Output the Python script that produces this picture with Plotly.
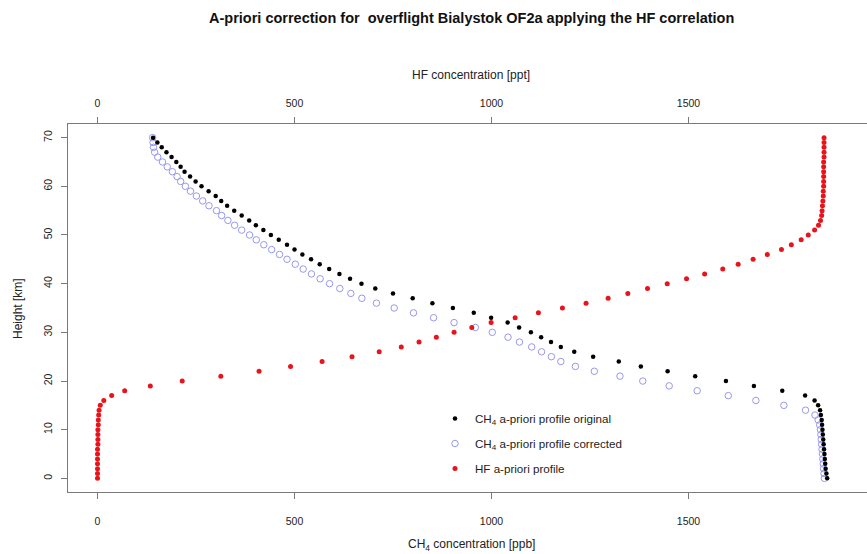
import plotly.graph_objects as go

heights = list(range(0, 71))

ch4_original = [1852, 1850, 1848, 1847, 1846, 1845, 1844, 1843, 1842, 1841,
                1840, 1839, 1838, 1836, 1834, 1829, 1820, 1796, 1738, 1666,
                1595, 1517, 1447, 1379, 1323, 1258, 1210, 1176, 1151, 1126,
                1100, 1070, 1041, 999, 955, 902, 850, 800, 750, 705,
                670, 641, 614, 588, 564, 542, 520, 500, 481, 460,
                440, 421, 402, 385, 366, 347, 329, 314, 300, 282,
                264, 249, 235, 221, 211, 200, 188, 175, 163, 152, 141]

ch4_corrected = [1845, 1844, 1843, 1842, 1841, 1840, 1839, 1838, 1837, 1836,
                 1835, 1833, 1829, 1821, 1797, 1742, 1671, 1601, 1522, 1451,
                 1384, 1326, 1261, 1213, 1176, 1152, 1127, 1102, 1071, 1042,
                 1002, 959, 905, 853, 802, 753, 708, 671, 643, 615,
                 589, 565, 543, 522, 502, 481, 462, 442, 422, 403,
                 386, 366, 348, 331, 315, 302, 283, 267, 251, 236,
                 223, 211, 202, 190, 177, 165, 153, 145, 142, 141, 140]

hf_apriori = [0, 0, 0, 0, 0, 0, 0, 1, 1, 1,
              1, 2, 2, 3, 4, 7, 16, 36, 69, 134,
              215, 313, 410, 490, 570, 646, 715, 771, 816, 860,
              905, 950, 999, 1060, 1119, 1180, 1240, 1296, 1346, 1396,
              1446, 1495, 1541, 1587, 1626, 1664, 1700, 1736, 1761, 1786,
              1804, 1820, 1830, 1835, 1838, 1839, 1840, 1841, 1842, 1842,
              1843, 1843, 1843, 1843, 1843, 1843, 1844, 1844, 1844, 1844, 1844]

x_ticks = [0, 500, 1000, 1500]
y_ticks = [0, 10, 20, 30, 40, 50, 60, 70]

W, H = 867, 554
L, R, T, B = 68, 0, 124, 62
pw, ph = W - L - R, H - T - B

def px_x(p):
    return (p - L) / pw

def px_y(p):
    return (H - B - p) / ph

FONT = "Liberation Sans, Arial, Helvetica, sans-serif"
TXT = "#222222"
LINE = "#7a7a7a"

fig = go.Figure()

fig.add_trace(go.Scatter(
    x=ch4_corrected, y=heights, mode="markers",
    name="CH<sub>4</sub> a-priori profile corrected",
    marker=dict(symbol="circle-open", size=6.5, color="#9898ee",
                line=dict(width=1, color="#9898ee")),
    legendrank=2, legendgroup="b"))

fig.add_trace(go.Scatter(
    x=ch4_original, y=heights, mode="markers",
    name="CH<sub>4</sub> a-priori profile original",
    marker=dict(symbol="circle", size=4.5, color="#000000"),
    legendrank=1, legendgroup="a"))

fig.add_trace(go.Scatter(
    x=hf_apriori, y=heights, mode="markers", xaxis="x2",
    name="HF a-priori profile",
    marker=dict(symbol="circle", size=5, color="#e8131b"),
    legendrank=3, legendgroup="c"))

xrange = [(L - 97.5) / 0.394, (W - R - 97.5) / 0.394]
yrange = [-2.8, 72.8]

common_x = dict(range=xrange, tickvals=x_ticks, ticktext=[str(v) for v in x_ticks],
                ticks="outside", ticklen=6, tickcolor=LINE, showline=True,
                linecolor=LINE, linewidth=1, showgrid=False, zeroline=False,
                tickfont=dict(family=FONT, size=10.5, color=TXT))

fig.update_layout(
    width=W, height=H,
    margin=dict(l=L, r=R, t=T, b=B),
    paper_bgcolor="white", plot_bgcolor="white",
    showlegend=True,
    legend=dict(x=px_x(435), y=px_y(404), xanchor="left", yanchor="top",
                font=dict(family=FONT, size=11.6, color=TXT),
                tracegroupgap=6, bgcolor="rgba(0,0,0,0)", borderwidth=0),
    xaxis=dict(**common_x, side="bottom", ticklabelstandoff=13),
    xaxis2=dict(**common_x, side="top", overlaying="x", anchor="y",
                ticklabelstandoff=6),
    yaxis=dict(range=yrange, tickvals=y_ticks, ticks="outside", ticklen=6,
               tickcolor=LINE, showline=True, linecolor=LINE, linewidth=1,
               showgrid=False, zeroline=False, tickangle=-90,
               ticklabelstandoff=5,
               tickfont=dict(family=FONT, size=10.5, color=TXT)),
    annotations=[
        dict(text="<b>A-priori correction for  overflight Bialystok OF2a applying the HF correlation</b>",
             xref="paper", yref="paper", x=px_x(471), y=px_y(18),
             xanchor="center", yanchor="middle", showarrow=False,
             font=dict(family=FONT, size=14.5, color="#111111")),
        dict(text="HF concentration [ppt]",
             xref="paper", yref="paper", x=px_x(471), y=px_y(75),
             xanchor="center", yanchor="middle", showarrow=False,
             font=dict(family=FONT, size=12, color=TXT)),
        dict(text="CH<sub>4</sub> concentration [ppb]",
             xref="paper", yref="paper", x=px_x(471), y=px_y(545),
             xanchor="center", yanchor="middle", showarrow=False,
             font=dict(family=FONT, size=12, color=TXT)),
        dict(text="Height [km]",
             xref="paper", yref="paper", x=px_x(18), y=px_y(309),
             xanchor="center", yanchor="middle", showarrow=False, textangle=-90,
             font=dict(family=FONT, size=12, color=TXT)),
    ],
)

fig.write_html("out.html")
